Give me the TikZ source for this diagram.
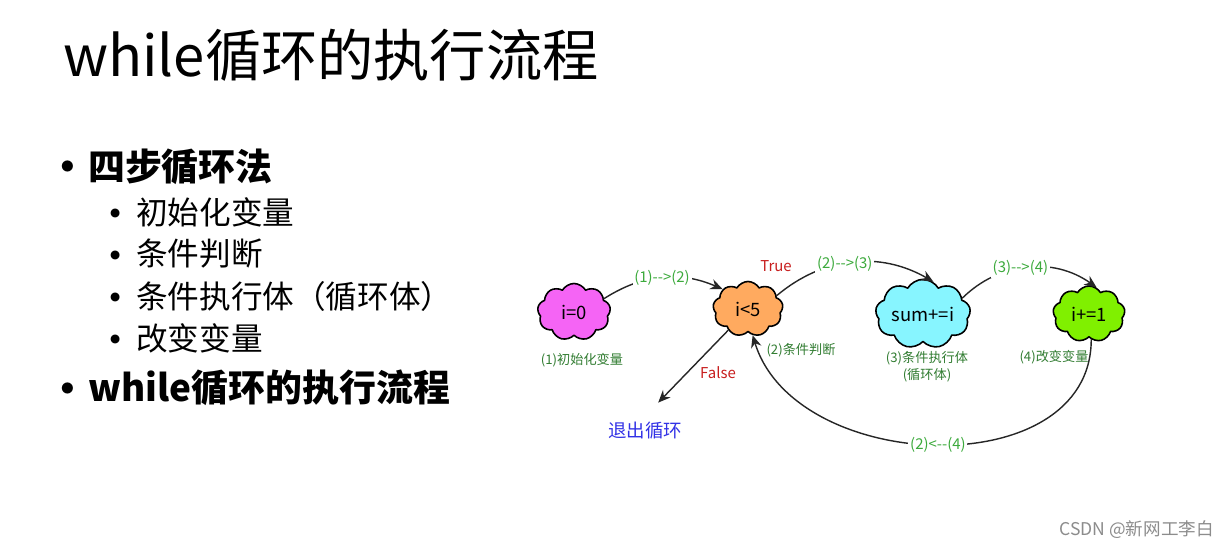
\documentclass[tikz,border=0pt]{standalone}
\usepackage{fontspec}
\setmainfont{Noto Sans CJK SC}
\usetikzlibrary{shapes.symbols,arrows.meta}
\definecolor{cloudpink}{RGB}{245,100,245}
\definecolor{cloudorange}{RGB}{255,170,95}
\definecolor{cloudcyan}{RGB}{135,245,255}
\definecolor{cloudgreen}{RGB}{128,240,0}
\definecolor{steplabel}{RGB}{60,170,60}
\definecolor{capgreen}{RGB}{50,125,50}
\definecolor{condred}{RGB}{200,30,30}
\definecolor{quitblue}{RGB}{50,50,230}
\tikzset{
  puff/.style={cloud,cloud puffs=9,cloud puff arc=120,aspect=1.6,draw,line width=0.9pt,
    inner xsep=0pt,inner ysep=-2pt,font=\fontsize{10.5}{12}\selectfont},
  caption/.style={text=capgreen,font=\fontsize{7.5}{9.5}\selectfont,align=center},
  flow/.style={-{Stealth[length=7pt,width=6pt]},line width=0.8pt,draw=black!85},
  steptag/.style={text=steplabel,font=\fontsize{8.5}{9}\selectfont,fill=white,inner sep=1pt},
  cond/.style={text=condred,font=\fontsize{8.5}{10}\selectfont},
  dotone/.style={font=\fontsize{30}{30}\selectfont,inner sep=0pt},
  dottwo/.style={font=\fontsize{24}{24}\selectfont,inner sep=0pt},
  lvlone/.style={anchor=west,font=\fontsize{21}{24}\selectfont\bfseries},
  lvltwo/.style={anchor=west,font=\fontsize{18}{20}\selectfont},
}
\begin{document}
\begin{tikzpicture}[x=0.02cm,y=-0.02cm,line cap=round,line join=round]
  \useasboundingbox[fill=white] (0,0) rectangle (1232,548);
  % title and bullet list
  \node[anchor=west,font=\fontsize{32}{38}\selectfont] (title) at (57,55) {while循环的执行流程};
  \node[dotone] (b1) at (68,174) {•};
  \node[lvlone] (l1) at (82,167) {四步循环法};
  \node[dottwo] (b2) at (116,219) {•};
  \node[lvltwo] (l2) at (130,212) {初始化变量};
  \node[dottwo] (b3) at (116,261) {•};
  \node[lvltwo] (l3) at (130,254) {条件判断};
  \node[dottwo] (b4) at (116,303) {•};
  \node[lvltwo] (l4) at (130,296) {条件执行体（循环体）};
  \node[dottwo] (b5) at (116,345) {•};
  \node[lvltwo] (l5) at (130,338) {改变变量};
  \node[dotone] (b6) at (68,396) {•};
  \node[lvlone] (l6) at (82,388) {while循环的执行流程};
  % the four steps
  \node[puff,fill=cloudpink,minimum width=1.46cm,minimum height=1.14cm] (init) at (574,312) {i=0};
  \node[puff,fill=cloudorange,minimum width=1.4cm,minimum height=1.1cm] (test) at (748,309) {i<5};
  \node[puff,fill=cloudcyan,minimum width=1.9cm,minimum height=1.24cm] (body) at (923,314) {sum+=i};
  \node[puff,fill=cloudgreen,minimum width=1.44cm,minimum height=1.12cm] (incr) at (1089,314) {i+=1};
  \node[caption] (initcap) at (582,360) {(1)初始化变量};
  \node[caption] (testcap) at (801,350) {(2)条件判断};
  \node[caption] (bodycap) at (927,367) {(3)条件执行体\\(循环体)};
  \node[caption] (incrcap) at (1054,357) {(4)改变变量};
  \node[cond] (true) at (776,266) {True};
  \node[cond] (false) at (718,373) {False};
  \node[text=quitblue,font=\fontsize{10.5}{12}\selectfont] (quit) at (645,431) {退出循环};
  % connectors
  \draw[flow] (init.24) to[bend left=28] node[steptag,pos=0.5] {(1)-{}->(2)} (test.142);
  \draw[flow] (test.25) to[bend left=35] node[steptag,pos=0.45] {(2)-{}->(3)} (body.72);
  \draw[flow] (body.22) to[bend left=40] node[steptag,pos=0.45] {(3)-{}->(4)} (incr.74);
  \draw[flow] (incr.-85) to[out=-90,in=-73,looseness=1.1] node[steptag,pos=0.5] {(2)<-{}-(4)} (test.-80);
  \draw[flow,shorten >=0.38cm] (test.-133) -- (quit.north);
  \node[text=black!45,font=\fontsize{10}{12}\selectfont,anchor=east] (mark) at (1220,530) {CSDN @新网工李白};
\end{tikzpicture}
\end{document}
